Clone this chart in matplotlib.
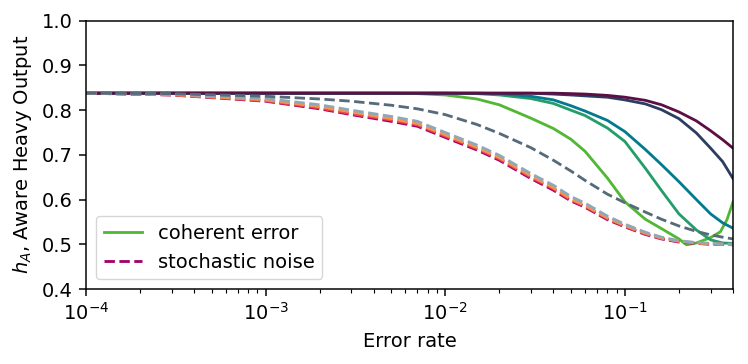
import matplotlib
matplotlib.use("Agg")
import matplotlib.pyplot as plt

# error rates (shared grid)
err = [1e-4, 3e-4, 1e-3, 2e-3, 3e-3, 5e-3, 7e-3, 0.01, 0.015, 0.02, 0.03, 0.04,
       0.05, 0.06, 0.08, 0.1, 0.13, 0.16, 0.2, 0.25, 0.3, 0.35, 0.4]

# coherent error (solid), least to most robust
coh_gteal = [0.838, 0.838, 0.838, 0.838, 0.838, 0.838, 0.838, 0.838, 0.837, 0.834, 0.826, 0.815,
             0.800, 0.788, 0.760, 0.730, 0.670, 0.620, 0.568, 0.532, 0.510, 0.503, 0.502]
coh_teal = [0.838, 0.838, 0.838, 0.838, 0.838, 0.838, 0.838, 0.838, 0.838, 0.837, 0.831, 0.823,
            0.810, 0.798, 0.777, 0.752, 0.712, 0.678, 0.640, 0.600, 0.568, 0.548, 0.536]
coh_navy = [0.838, 0.838, 0.838, 0.838, 0.838, 0.838, 0.838, 0.838, 0.838, 0.838, 0.838, 0.836,
            0.834, 0.832, 0.829, 0.823, 0.814, 0.801, 0.781, 0.749, 0.715, 0.685, 0.647]
coh_maroon = [0.838, 0.838, 0.838, 0.838, 0.838, 0.838, 0.838, 0.838, 0.838, 0.838, 0.838, 0.838,
              0.837, 0.836, 0.833, 0.829, 0.822, 0.812, 0.796, 0.776, 0.754, 0.734, 0.715]
# light green: dip and recovery needs extra points
lg_err = [1e-4, 3e-4, 1e-3, 2e-3, 3e-3, 5e-3, 7e-3, 0.01, 0.015, 0.02, 0.03, 0.04,
          0.05, 0.06, 0.08, 0.1, 0.13, 0.16, 0.2, 0.22, 0.25, 0.3, 0.34, 0.37, 0.4]
coh_lgreen = [0.838, 0.838, 0.838, 0.838, 0.838, 0.838, 0.837, 0.834, 0.825, 0.812, 0.782, 0.759,
              0.735, 0.708, 0.648, 0.595, 0.556, 0.535, 0.512, 0.499, 0.503, 0.515, 0.528, 0.555, 0.595]

# stochastic noise (dashed)
sto_slate = [0.838, 0.837, 0.831, 0.825, 0.820, 0.811, 0.803, 0.790, 0.768, 0.748, 0.716, 0.688,
             0.664, 0.643, 0.612, 0.593, 0.572, 0.556, 0.541, 0.529, 0.521, 0.516, 0.512]
sto_gray = [0.838, 0.836, 0.826, 0.812, 0.800, 0.786, 0.775, 0.750, 0.722, 0.699, 0.658, 0.632,
            0.607, 0.592, 0.563, 0.545, 0.527, 0.516, 0.508, 0.504, 0.502, 0.501, 0.500]
sto_orange = [0.838, 0.835, 0.823, 0.808, 0.796, 0.781, 0.770, 0.745, 0.717, 0.694, 0.653, 0.627,
              0.602, 0.587, 0.559, 0.542, 0.525, 0.514, 0.507, 0.503, 0.501, 0.500, 0.500]
sto_red = [0.838, 0.834, 0.821, 0.805, 0.792, 0.778, 0.767, 0.742, 0.714, 0.691, 0.650, 0.624,
           0.599, 0.585, 0.557, 0.540, 0.523, 0.513, 0.506, 0.502, 0.501, 0.500, 0.499]
sto_magenta = [0.838, 0.834, 0.820, 0.803, 0.790, 0.775, 0.764, 0.739, 0.711, 0.688, 0.647, 0.621,
               0.597, 0.583, 0.555, 0.539, 0.522, 0.512, 0.505, 0.502, 0.500, 0.500, 0.499]

# original looks like a default-styled fig rendered ~1.35x, so scale sizes
s = 1.35
plt.rcParams.update({
    "font.size": 14,
    "axes.linewidth": 0.8 * s,
    "xtick.major.size": 3.5 * s, "ytick.major.size": 3.5 * s,
    "xtick.minor.size": 2 * s, "ytick.minor.size": 2 * s,
    "xtick.major.width": 0.8 * s, "ytick.major.width": 0.8 * s,
    "xtick.minor.width": 0.6 * s, "ytick.minor.width": 0.6 * s,
    "xtick.major.pad": 3.5 * s, "ytick.major.pad": 3.5 * s,
    "axes.labelpad": 4 * s,
})
fig = plt.figure(figsize=(7.48, 3.64), dpi=100)
ax = fig.add_axes([0.115, 0.206, 0.865, 0.737])

lw = 1.5 * s
ax.plot(lg_err, coh_lgreen, color="#52b734", lw=lw, label="coherent error")
ax.plot(err, coh_gteal, color="#259d6b", lw=lw)
ax.plot(err, coh_teal, color="#037a8e", lw=lw)
ax.plot(err, coh_navy, color="#2b3e61", lw=lw)
ax.plot(err, coh_maroon, color="#5b0f45", lw=lw)

ax.plot(err, sto_magenta, "--", color="#a3006d", lw=lw, label="stochastic noise")
ax.plot(err, sto_red, "--", color="#e8464c", lw=lw)
ax.plot(err, sto_orange, "--", color="#f7944c", lw=lw)
ax.plot(err, sto_gray, "--", color="#8fa8b8", lw=lw)
ax.plot(err, sto_slate, "--", color="#566b7a", lw=lw)

ax.set_xscale("log")
ax.set_xlim(1e-4, 0.4)
ax.set_ylim(0.4, 1.0)
ax.set_xlabel("Error rate")
ax.set_ylabel("$h_A$, Aware Heavy Output")
ax.legend(loc="lower left")

fig.savefig("out.png", dpi=100)
